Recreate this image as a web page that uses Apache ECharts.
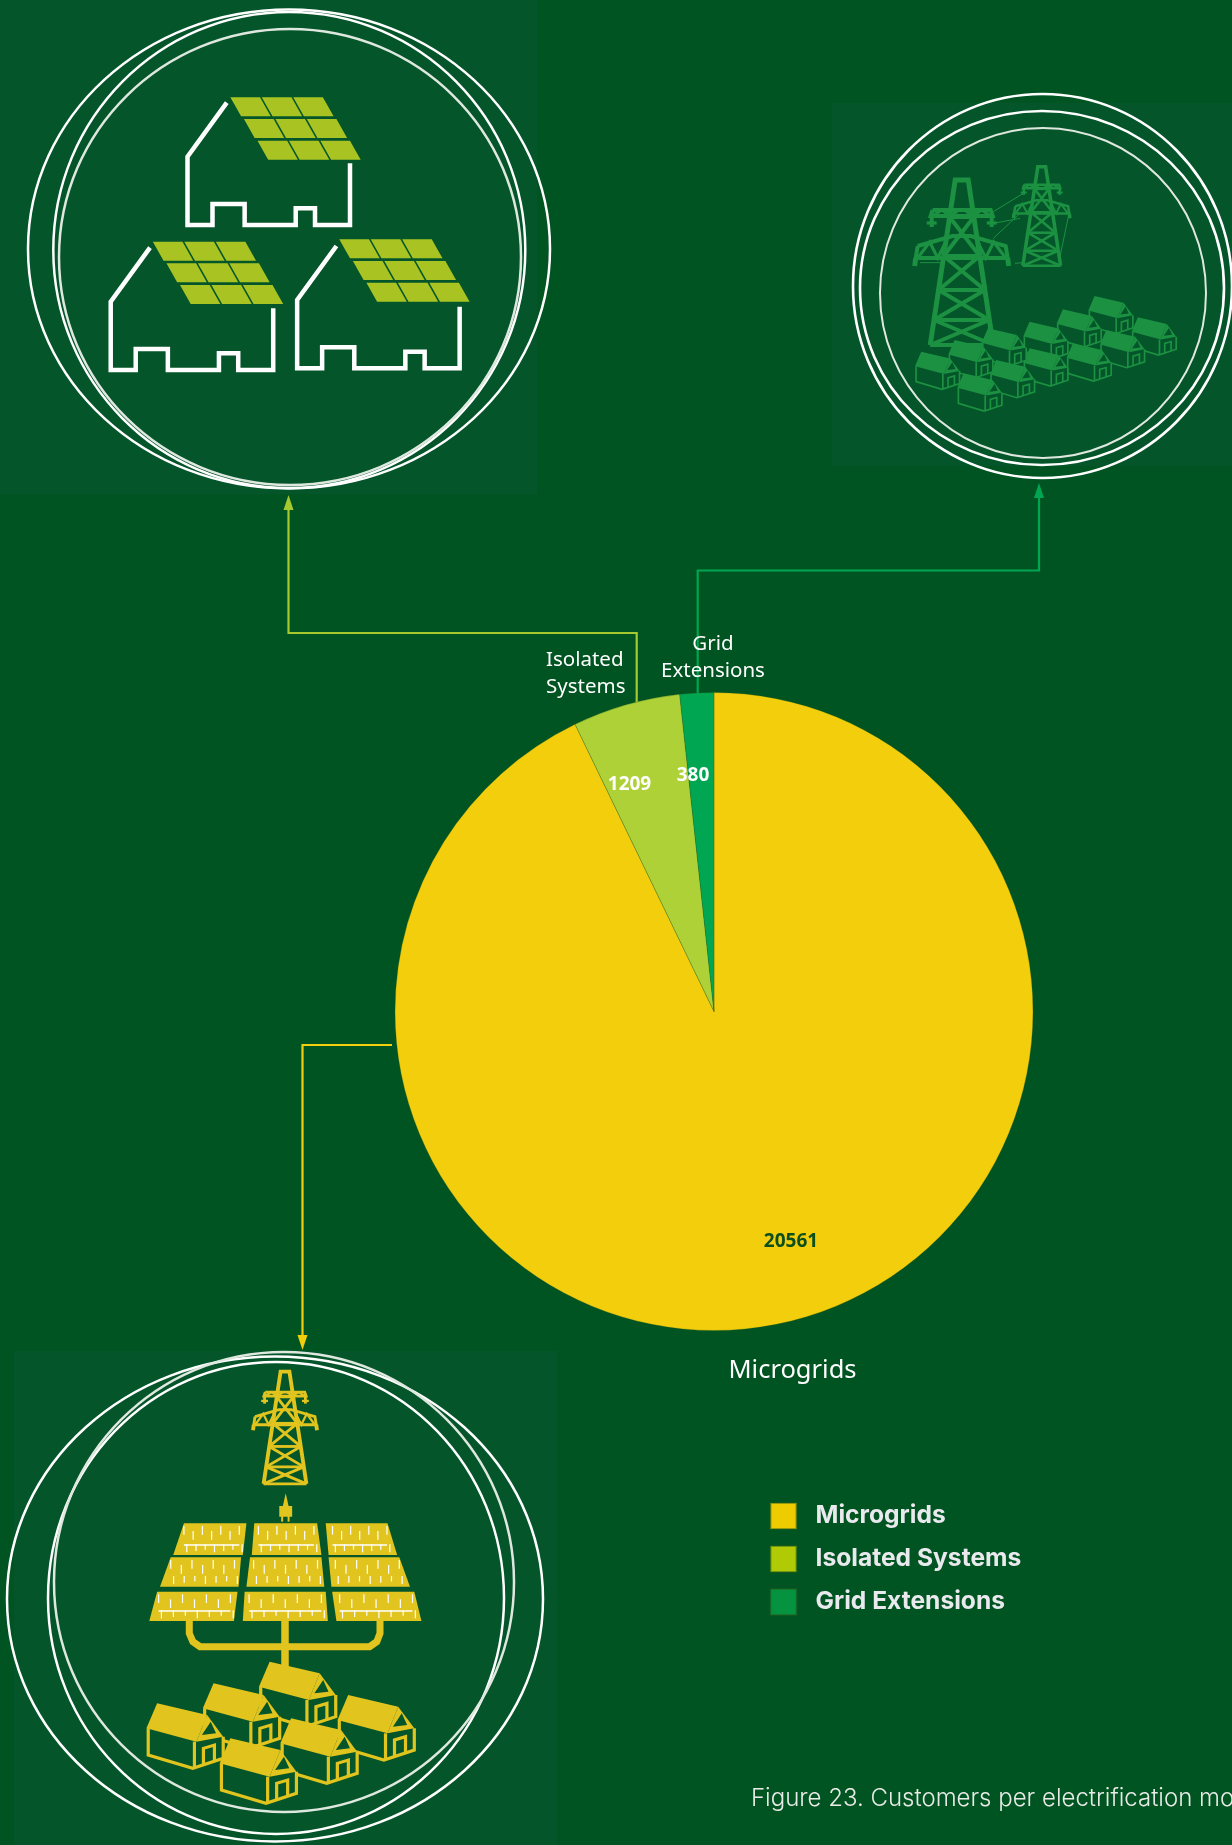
<!DOCTYPE html>
<html>
<head>
<meta charset="utf-8">
<title>Customers per electrification model</title>
<style>
  html, body { margin: 0; padding: 0; background: #005421; }
  #chart { width: 1232px; height: 1845px; }
</style>
<script src="https://cdn.jsdelivr.net/npm/echarts@6/dist/echarts.min.js"></script>
</head>
<body>
<div id="chart"></div>
<script>
const categories = ['Microgrids', 'Isolated Systems', 'Grid Extensions']
const customers = [20561, 1209, 380]
const pieColors = ['#f2ce0c', '#add136', '#00a651']
const legendColors = ['#efcc00', '#b0cb05', '#05933f']
const caption = 'Figure 23. Customers per electrification models'

const BG = '#005421'
const PANEL = '#04552a'
const ICON_YELLOW = '#e2c41f'
const ICON_LIME = '#a9c422'
const ICON_GREEN = '#1b9141'

// decoration: everything below only builds the three round icons and the connectors
const els = []
const add = (type, shape, style) => els.push({ type, shape, style, silent: true })
const fillPoly = (points, fill) => add('polygon', { points }, { fill })
const strokeLine = (points, stroke, lineWidth) =>
  add('polyline', { points }, { stroke, lineWidth, fill: 'none', lineJoin: 'miter' })
const ring = (cx, cy, rx, ry, stroke, lineWidth) =>
  add('ellipse', { cx, cy, rx, ry }, { stroke, lineWidth, fill: 'none' })

// crop coordinates -> page coordinates
const z1 = (x, y) => [x / 2.8, y / 3]
const z2 = (x, y) => [820 + x / 3, 90 + y / 3]
const z3 = (x, y) => [x / 2.8, 1340 + y / 3]

function tower(cx, top, s, color) {
  const w = 3.6 * s + 0.4
  const P = (x, y) => [cx + x * s, top + y * s]
  const leg = y => 6.5 + 25 * y / 165
  strokeLine([P(-leg(165), 165), P(-6.5, 0), P(6.5, 0), P(leg(165), 165)], color, w + 1)
  const bars = [37, 76, 110, 140, 165]
  bars.forEach((y, i) => {
    strokeLine([P(-leg(y), y), P(leg(y), y)], color, w)
    if (i < bars.length - 1) {
      const y2 = bars[i + 1]
      strokeLine([P(-leg(y), y), P(leg(y2), y2)], color, w)
      strokeLine([P(leg(y), y), P(-leg(y2), y2)], color, w)
    }
  })
  // upper arm
  strokeLine([P(-29, 30), P(29, 30), P(31, 36), P(-31, 36), P(-29, 30)], color, w)
  strokeLine([P(-29, 36), P(-20, 30), P(-11, 36), P(-3, 30)], color, w * 0.8)
  strokeLine([P(29, 36), P(20, 30), P(11, 36), P(3, 30)], color, w * 0.8)
  strokeLine([P(-30, 36), P(-30, 47)], color, w)
  strokeLine([P(30, 36), P(30, 47)], color, w)
  strokeLine([P(-35, 43), P(-25, 43)], color, w * 0.8)
  strokeLine([P(35, 43), P(25, 43)], color, w * 0.8)
  // lower arm
  strokeLine([P(-44, 66), P(-9, 56), P(9, 56), P(44, 66), P(46, 78), P(-46, 78), P(-44, 66)], color, w)
  strokeLine([P(-44, 78), P(-32, 62), P(-24, 78), P(-14, 58)], color, w * 0.8)
  strokeLine([P(44, 78), P(32, 62), P(24, 78), P(14, 58)], color, w * 0.8)
  strokeLine([P(-46, 78), P(-47, 86)], color, w + 1)
  strokeLine([P(46, 78), P(47, 86)], color, w + 1)
}

function hut(x, y, s, color, w) {
  const P = pts => pts.map(p => [x + p[0] * s, y + p[1] * s])
  fillPoly(P([[1.8, 25], [1.8, 51.7], [46.4, 65], [76.8, 55], [76.8, 33.3], [50, 20]]), PANEL)
  strokeLine(P([[1.8, 25], [1.8, 51.7], [46.4, 65], [76.8, 55], [76.8, 33.3]]), color, w)
  strokeLine(P([[48, 38.3], [48, 65]]), color, w)
  strokeLine(P([[57, 61.7], [57, 45], [68, 41.7], [68, 58.3]]), color, w)
  fillPoly(P([[10.7, 0], [60.7, 11.7], [50, 38.3], [0, 25]]), color)
  fillPoly(P([[60.7, 11.7], [76.8, 33.3], [50, 38.3]]), color)
  fillPoly(P([[64.3, 18.3], [69.6, 30], [55.4, 31.7]]), PANEL)
}

function solarHouse(dx, dy, ox, oy) {
  const outline = [[635, 308], [525, 470], [525, 675], [595, 675], [595, 612], [685, 612], [685, 675],
    [828, 675], [828, 625], [882, 625], [882, 675], [980, 675], [980, 490]]
  strokeLine(outline.map(p => z1(p[0] + dx, p[1] + dy)), '#ffffff', 4.5)
  for (let r = 0; r < 3; r++) {
    for (let c = 0; c < 3; c++) {
      const x0 = ox + r * 38 + c * 88
      const y0 = oy + r * 65
      const y1 = y0 + 57
      fillPoly([z1(x0, y0), z1(x0 + 83, y0), z1(x0 + 113, y1), z1(x0 + 30, y1)], ICON_LIME)
    }
  }
}

// panels behind the icons
add('rect', { x: 0, y: 0, width: 537, height: 494 }, { fill: PANEL })
add('rect', { x: 832, y: 103, width: 400, height: 363 }, { fill: PANEL })
add('rect', { x: 14, y: 1351, width: 543, height: 494 }, { fill: PANEL })

// top left icon
ring(289, 249, 261, 239.5, '#ffffff', 2.5)
ring(289.3, 250, 236, 238, '#ffffff', 2.5)
ring(290, 257, 231, 228, '#dfe8df', 2.5)
solarHouse(0, 0, 645, 292)
solarHouse(-215, 435, 428, 725)
solarHouse(307, 430, 950, 718)

// top right icon
ring(1042.5, 286, 189.5, 192, '#ffffff', 2.6)
ring(1042, 288, 182, 177, '#ffffff', 2.6)
ring(1043, 293, 163, 165, '#dfe8df', 2)
tower(961.7, 180, 1, ICON_GREEN)
tower(1041.7, 166.7, 0.6, ICON_GREEN)
;[[[520, 365], [610, 310]], [[520, 400], [600, 385]], [[520, 445], [600, 370]], [[745, 380], [720, 500]], [[300, 518], [360, 518]], [[585, 520], [610, 518]]]
  .forEach(l => strokeLine(l.map(p => z2(p[0], p[1])), ICON_GREEN, 1))
;[[935, 682], [805, 618], [840, 720], [710, 658], [740, 760], [610, 695], [610, 775], [485, 715], [510, 810], [385, 750], [285, 785], [412, 850]]
  .forEach(p => { const a = z2(p[0], p[1]); hut(a[0], a[1], 0.58, ICON_GREEN, 1.7) })

// bottom left icon
ring(275, 1599, 268, 242.5, '#ffffff', 2.5)
ring(276, 1598, 228, 236, '#ffffff', 2.5)
ring(284, 1582, 230, 230, '#dfe8df', 2.5)
const t3 = z3(798, 95)
tower(t3[0], t3[1], 0.68, ICON_YELLOW)
// plug
fillPoly([z3(800, 460), z3(808, 498), z3(818, 498), z3(818, 530), z3(782, 530), z3(782, 498), z3(792, 498)], ICON_YELLOW)
strokeLine([z3(790, 528), z3(790, 545)], ICON_YELLOW, 2)
strokeLine([z3(808, 528), z3(808, 545)], ICON_YELLOW, 2)
// solar array, one quad per panel
const arrayPanels = [
  [[515, 550], [690, 550], [680, 645], [485, 645]],
  [[712, 550], [888, 550], [900, 645], [705, 645]],
  [[912, 550], [1085, 550], [1112, 645], [920, 645]],
  [[478, 652], [675, 652], [668, 740], [448, 740]],
  [[700, 652], [900, 652], [908, 740], [690, 740]],
  [[920, 652], [1118, 652], [1148, 740], [928, 740]],
  [[440, 755], [665, 755], [655, 843], [418, 843]],
  [[685, 755], [912, 755], [918, 843], [680, 843]],
  [[930, 755], [1160, 755], [1180, 843], [942, 843]]
]
arrayPanels.forEach((q, i) => {
  fillPoly(q.map(p => z3(p[0], p[1])), ICON_YELLOW)
  const row = Math.floor(i / 3)
  const yTop = q[0][1] + 8
  const yBot = q[2][1] - 8
  const left = (q[0][0] + q[3][0]) / 2 + 15
  const right = (q[1][0] + q[2][0]) / 2 - 15
  // the white flecks of the cells
  for (let k = 0; k < 7; k++) {
    const x = left + (right - left) * k / 6
    strokeLine([z3(x, yTop + (k % 2) * 15), z3(x, yTop + (k % 2) * 15 + 26)], '#ffffff', 1.2)
    strokeLine([z3(x + 8, yBot - 24), z3(x + 8, yBot - (k % 3) * 4)], '#ffffff', 1.2)
  }
  if (row !== 1) {
    strokeLine([z3(left, yBot - 22), z3(right, yBot - 22)], '#ffffff', 1.4)
  }
})
strokeLine([z3(530, 843), z3(530, 880), z3(540, 905), z3(560, 920), z3(1035, 920), z3(1055, 905), z3(1064, 880), z3(1064, 843)], ICON_YELLOW, 7)
strokeLine([z3(798, 843), z3(798, 985)], ICON_YELLOW, 7.5)
;[[725, 965], [945, 1065], [568, 1030], [785, 1135], [410, 1090], [615, 1195]]
  .forEach(p => { const a = z3(p[0], p[1]); hut(a[0], a[1], 1, ICON_YELLOW, 3.2) })

// connectors from the pie to the icons
strokeLine([[636.7, 702], [636.7, 633], [288.5, 633], [288.5, 508]], '#a6c92f', 2.2)
fillPoly([[288.5, 495], [283.5, 510], [293.5, 510]], '#a6c92f')
strokeLine([[697.7, 695], [697.7, 570.5], [1039, 570.5], [1039, 495]], '#00a651', 2.2)
fillPoly([[1039, 483], [1034, 498], [1044, 498]], '#00a651')
strokeLine([[392, 1045], [302.5, 1045], [302.5, 1338]], '#f2ce0c', 2.2)
fillPoly([[302.5, 1350], [297.5, 1335], [307.5, 1335]], '#f2ce0c')

const myChart = echarts.init(document.getElementById('chart'))

const valueSpots = [[791, 1242], [629.5, 785], [693, 776]]
const nameSpots = [[792.5, 1371, 'center'], [546, 674, 'left'], [713, 658, 'center']]

myChart.setOption({
  animation: false,
  backgroundColor: BG,
  title: {
    text: caption,
    left: 751,
    top: 1787,
    padding: 0,
    textStyle: { color: '#e8ebe8', fontFamily: 'Inter', fontWeight: 300, fontSize: 24 }
  },
  legend: {
    orient: 'vertical',
    left: 769.5,
    top: 1502,
    padding: 0,
    itemWidth: 26,
    itemHeight: 26,
    itemGap: 15,
    selectedMode: false,
    icon: 'rect',
    textStyle: {
      color: '#e9e9ee',
      fontFamily: 'Inter',
      fontWeight: 700,
      fontSize: 24.6,
      padding: [0, 0, 0, 14]
    },
    data: categories.map((name, i) => ({ name, itemStyle: { color: legendColors[i] } }))
  },
  graphic: { elements: els },
  series: [
    {
      name: 'Customers',
      type: 'pie',
      center: [714, 1011.5],
      radius: [0, 319],
      startAngle: 90,
      silent: true,
      avoidLabelOverlap: false,
      itemStyle: { borderColor: 'rgba(40,90,30,0.45)', borderWidth: 0.6 },
      label: {
        show: true,
        position: 'inside',
        formatter: '{c}',
        fontFamily: 'Noto Sans',
        fontWeight: 700,
        fontSize: 19,
        color: '#ffffff'
      },
      labelLine: { show: false },
      labelLayout: p => ({ x: valueSpots[p.dataIndex][0], y: valueSpots[p.dataIndex][1], align: 'center', verticalAlign: 'middle' }),
      data: categories.map((name, i) => ({
        name,
        value: customers[i],
        itemStyle: { color: pieColors[i] },
        label: i === 0 ? { color: '#0c4f1c' } : {}
      }))
    },
    {
      name: 'Names',
      type: 'pie',
      center: [714, 1011.5],
      radius: [0, 319],
      startAngle: 90,
      silent: true,
      avoidLabelOverlap: false,
      itemStyle: { color: 'transparent' },
      label: {
        show: true,
        position: 'outside',
        formatter: p => p.name.replace(' ', '\n'),
        fontFamily: 'Noto Sans',
        fontSize: 20.5,
        lineHeight: 27,
        color: '#ffffff'
      },
      labelLine: { show: false },
      labelLayout: p => ({ x: nameSpots[p.dataIndex][0], y: nameSpots[p.dataIndex][1], align: nameSpots[p.dataIndex][2], verticalAlign: 'middle' }),
      data: categories.map((name, i) => ({
        name,
        value: customers[i],
        label: i === 0 ? { fontSize: 25.5 } : {}
      }))
    }
  ]
})
</script>
</body>
</html>
